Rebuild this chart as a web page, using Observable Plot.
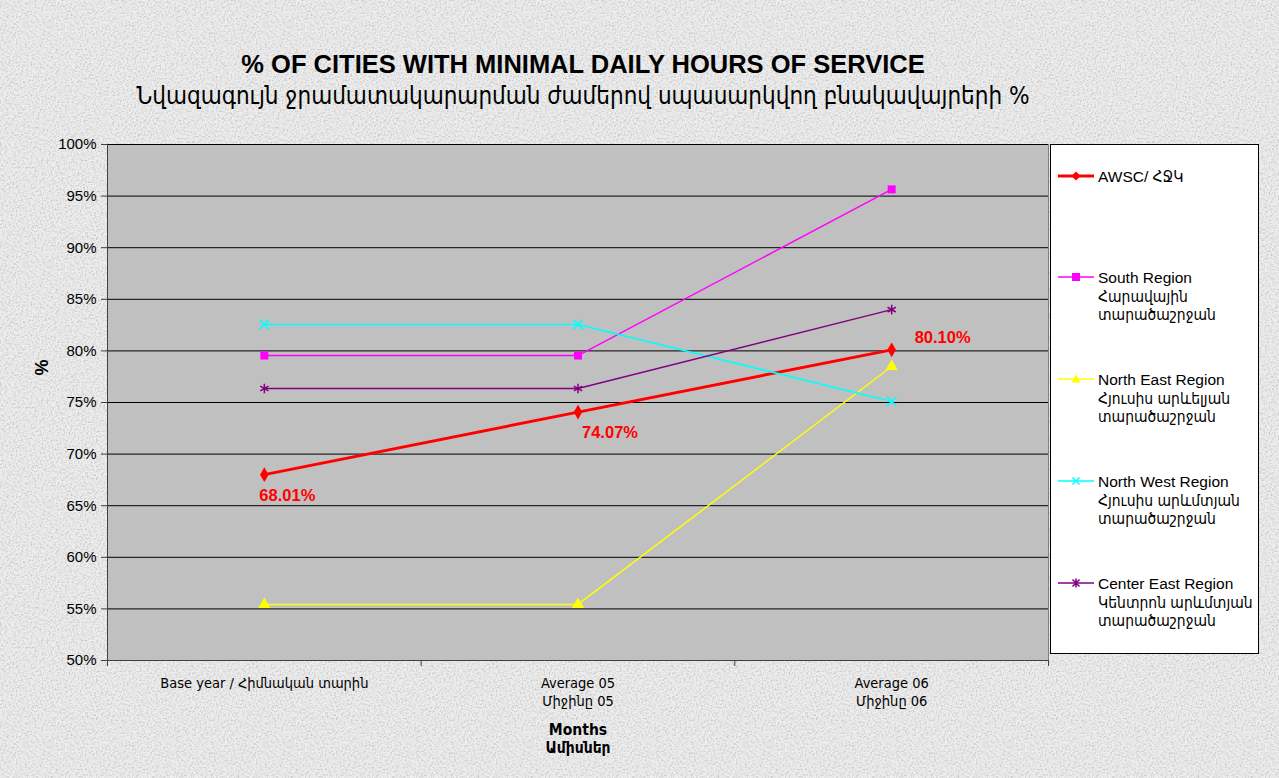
<!DOCTYPE html>
<html>
<head>
<meta charset="utf-8">
<script src="https://cdn.jsdelivr.net/npm/d3@7"></script>
<script src="https://cdn.jsdelivr.net/npm/@observablehq/plot@0.6"></script>
<style>
  html, body { margin: 0; padding: 0; }
  body {
    width: 1279px; height: 778px; overflow: hidden; position: relative;
    font-family: "Liberation Sans", Arial, "DejaVu Sans", sans-serif;
    background-color: #ededed;
    background-image: url("data:image/svg+xml;utf8,<svg xmlns='http://www.w3.org/2000/svg' width='240' height='240'><filter id='n' x='0' y='0' width='100%' height='100%'><feTurbulence type='fractalNoise' baseFrequency='0.55' numOctaves='3' stitchTiles='stitch'/><feColorMatrix type='matrix' values='0 0 0 0 0.55  0 0 0 0 0.55  0 0 0 0 0.55  2.2 0 0 0 -0.95'/></filter><rect width='240' height='240' filter='url(%23n)'/></svg>");
  }
  #title {
    position: absolute; left: 583px; top: 49px; transform: translateX(-50%);
    white-space: nowrap; text-align: center; color: #000;
  }
  #title .t1 { font-family: "Liberation Sans Narrow", "Liberation Sans", Arial, sans-serif; font-weight: bold; font-size: 25.5px; line-height: 31px; }
  #title .t2 { font-family: "Liberation Sans Narrow", "DejaVu Sans Condensed", "Liberation Sans", sans-serif; font-size: 24px; line-height: 33px; }
  #chart { position: absolute; left: 0; top: 120px; }
  #legend {
    position: absolute; left: 1050px; top: 144px; width: 207px; height: 508px;
    background: #fff; border: 1px solid #000; font-size: 15.5px; color: #000;
    font-family: "Liberation Sans", "DejaVu Sans Condensed", sans-serif;
  }
  .item { position: absolute; left: 7px; display: flex; align-items: flex-start; }
  .item svg { flex: none; margin-top: 1px; }
  .item .lbl { margin-left: 4px; line-height: 18.5px; white-space: nowrap; }
</style>
</head>
<body>
<div id="title">
  <div class="t1">% OF CITIES WITH MINIMAL DAILY HOURS OF SERVICE</div>
  <div class="t2">Նվազագույն ջրամատակարարման ժամերով սպասարկվող բնակավայրերի %</div>
</div>
<div id="chart"></div>
<div id="legend"></div>
<script>
// ---- data ----
const categories = ["Base year / Հիմնական տարին", "Average 05\nՄիջինը 05", "Average 06\nՄիջինը 06"];
const seriesNames = ["AWSC/ ՀՋԿ", "South Region\nՀարավային\nտարածաշրջան", "North East Region\nՀյուսիս արևելյան\nտարածաշրջան", "North West Region\nՀյուսիս արևմտյան\nտարածաշրջան", "Center East Region\nԿենտրոն արևմտյան\nտարածաշրջան"];
const awsc = [68.01, 74.07, 80.10];
const south = [79.55, 79.55, 95.65];
const northEast = [55.43, 55.43, 78.49];
const northWest = [82.56, 82.56, 75.10];
const centerEast = [76.36, 76.36, 84.00];
const awscLabels = ["68.01%", "74.07%", "80.10%"];
const yTicks = [50, 55, 60, 65, 70, 75, 80, 85, 90, 95, 100];
const xLabelTitle = "Months\nԱմիսներ";
const yLabelTitle = "%";

const colors = ["#FF0000", "#FF00FF", "#FFFF00", "#00FFFF", "#800080"];
const symbols = ["diamond", "square", "triangle", "times", "asterisk"];
const widths = [3, 1.5, 1.5, 1.5, 1.5];
const allSeries = [awsc, south, northEast, northWest, centerEast];

const rows = [];
allSeries.forEach((vals, s) => vals.forEach((v, i) => rows.push({s, i, x: i + 0.5, v})));

const narrow = "'Liberation Sans Narrow', 'DejaVu Sans Condensed', 'Liberation Sans', sans-serif";
const marks = [
  Plot.frame({fill: "#C0C0C0", stroke: "#808080"}),
  Plot.ruleY(yTicks, {y: d => d, stroke: "#000", strokeWidth: 1}),
  Plot.axisY({ticks: yTicks, tickFormat: d => d + "%", tickSize: 6, tickPadding: 5, fontSize: 15, stroke: "#404040", label: null}),
  Plot.axisX({ticks: [0, 1, 2, 3], tickFormat: () => "", tickSize: 6, stroke: "#404040", label: null}),
  Plot.ruleX([0], {stroke: "#404040"}),
  Plot.ruleY([50], {stroke: "#404040"}),
  Plot.text(categories, {x: (d, i) => i + 0.5, frameAnchor: "bottom", dy: 15, lineAnchor: "top", fontSize: 14.5, lineHeight: 1.25, fill: "#000", fontFamily: narrow}),
  Plot.text([xLabelTitle], {x: 1.5, frameAnchor: "bottom", dy: 61, lineAnchor: "top", fontSize: 15.5, fontWeight: "bold", lineHeight: 1.2, fill: "#000", fontFamily: narrow}),
  Plot.text([yLabelTitle], {frameAnchor: "left", dx: -65, dy: -27, rotate: -90, fontSize: 18, fontWeight: "bold", fill: "#000"})
];
allSeries.forEach((vals, s) => {
  const d = rows.filter(r => r.s === s);
  marks.push(Plot.line(d, {x: "x", y: "v", stroke: colors[s], strokeWidth: widths[s]}));
  const filled = s < 3;
  marks.push(Plot.dot(d, {x: "x", y: "v", symbol: () => symbols[s], r: 4.5,
    fill: filled ? colors[s] : "none", stroke: colors[s], strokeWidth: filled ? 0 : 1.5}));
});
const aRows = rows.filter(r => r.s === 0);
const off = [[23, 21], [32, 21], [51, -12]];
aRows.forEach((r, i) => marks.push(Plot.text([r], {x: "x", y: "v", text: () => awscLabels[i], dx: off[i][0], dy: off[i][1], fill: "#FF0000", fontWeight: "bold", fontSize: 16.5})));

const plot = Plot.plot({
  width: 1279, height: 658,
  marginLeft: 107, marginRight: 231, marginTop: 24, marginBottom: 118,
  x: {type: "linear", domain: [0, 3]},
  y: {type: "linear", domain: [50, 100]},
  style: {background: "transparent", fontFamily: "'Liberation Sans', Arial, sans-serif", color: "#000", overflow: "visible"},
  marks
});
document.getElementById("chart").appendChild(plot);

// ---- legend ----
const legend = document.getElementById("legend");
const tops = [26, 127, 229, 331, 433];
const markerSvg = (s) => {
  const c = colors[s];
  let m = "";
  if (s === 0) m = `<path d="M18,2.5 L22.5,7 L18,11.5 L13.5,7 Z" fill="${c}"/>`;
  if (s === 1) m = `<rect x="14" y="3" width="8" height="8" fill="${c}"/>`;
  if (s === 2) m = `<path d="M18,2.5 L22.5,10.5 L13.5,10.5 Z" fill="${c}"/>`;
  if (s === 3) m = `<path d="M14.5,3.5 L21.5,10.5 M21.5,3.5 L14.5,10.5" stroke="${c}" stroke-width="1.5"/>`;
  if (s === 4) m = `<path d="M14.5,3.5 L21.5,10.5 M21.5,3.5 L14.5,10.5 M18,2.5 L18,11.5" stroke="${c}" stroke-width="1.5"/>`;
  return `<svg width="36" height="14"><line x1="0" y1="7" x2="36" y2="7" stroke="${c}" stroke-width="${widths[s]}"/>${m}</svg>`;
};
seriesNames.forEach((name, s) => {
  const el = document.createElement("div");
  el.className = "item";
  el.style.top = (tops[s] - 3) + "px";
  el.innerHTML = markerSvg(s) + `<div class="lbl">${name.split("\n").join("<br>")}</div>`;
  legend.appendChild(el);
});
</script>
</body>
</html>
